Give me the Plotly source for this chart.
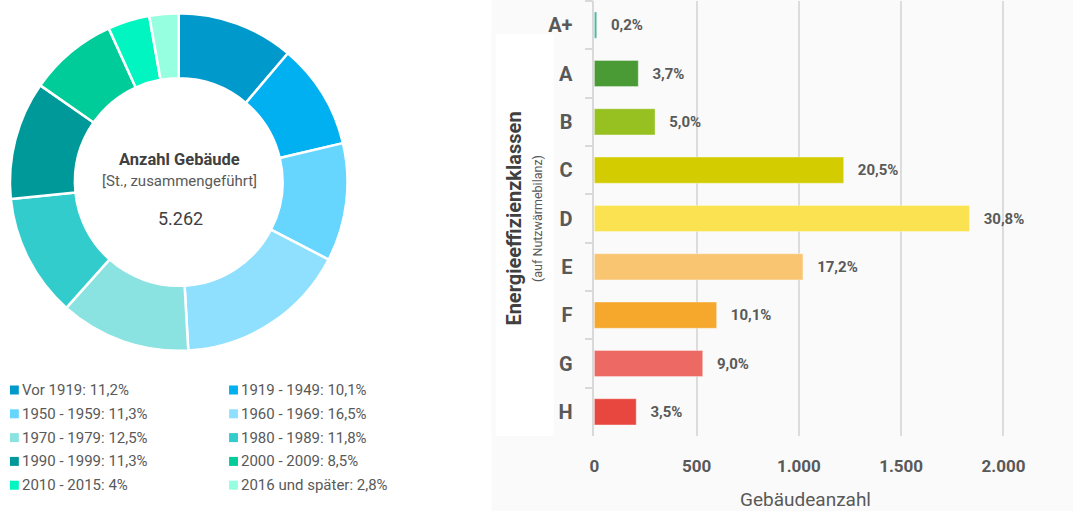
import plotly.graph_objects as go

W, H = 1082, 511

# ---- Donut data ----
age_labels = ["Vor 1919", "1919 - 1949", "1950 - 1959", "1960 - 1969", "1970 - 1979",
              "1980 - 1989", "1990 - 1999", "2000 - 2009", "2010 - 2015", "2016 und später"]
age_share = [11.2, 10.1, 11.3, 16.5, 12.5, 11.8, 11.3, 8.5, 4.0, 2.8]
age_share_text = ["11,2%", "10,1%", "11,3%", "16,5%", "12,5%", "11,8%", "11,3%", "8,5%", "4%", "2,8%"]
age_colors = ["#0099CC", "#00B0F0", "#66D6FF", "#8FE0FF", "#8AE3E0",
              "#33CCCC", "#009999", "#00CC99", "#00F5C0", "#96FFE0"]
total_text = "5.262"

# ---- Bar data ----
classes = ["A+", "A", "B", "C", "D", "E", "F", "G", "H"]
counts = [12, 215, 297, 1219, 1834, 1020, 598, 530, 205]
count_pct = ["0,2%", "3,7%", "5,0%", "20,5%", "30,8%", "17,2%", "10,1%", "9,0%", "3,5%"]
class_colors = ["#4DB6A0", "#4A9A35", "#97C121", "#D2CC00", "#FBE251",
                "#F9C571", "#F5A82C", "#EC6A63", "#E8473F"]
x_ticks = [0, 500, 1000, 1500, 2000]

FONT = "Roboto"
GREY = "#595959"

def px(x):
    return x / W

def py(y):
    return 1 - y / H

fig = go.Figure()

fig.add_trace(go.Pie(
    labels=age_labels, values=age_share, sort=False, direction="clockwise",
    rotation=0, hole=0.615, textinfo="none", showlegend=False,
    marker=dict(colors=age_colors, line=dict(color="white", width=2.5)),
    domain=dict(x=[px(5), px(347)], y=[py(352), py(12)]),
))

fig.add_trace(go.Bar(
    y=classes, x=counts, orientation="h",
    marker=dict(color=class_colors, line=dict(color="rgba(255,255,255,0.35)", width=1)),
    text=["\u00a0\u00a0\u00a0" + t for t in count_pct], textposition="outside",
    textfont=dict(family=FONT, size=15, color=GREY, weight="bold"),
    cliponaxis=False, showlegend=False, width=0.54,
))

shapes = [
    dict(type="rect", xref="paper", yref="paper", x0=px(493), x1=1, y0=0, y1=1,
         fillcolor="#FAFAFA", line=dict(width=0), layer="below"),
    dict(type="rect", xref="paper", yref="paper", x0=px(497), x1=px(556), y0=py(436), y1=py(34),
         fillcolor="#FFFFFF", line=dict(width=0), layer="below"),
]

annotations = [
    dict(text="<b>Anzahl Gebäude</b>", x=px(177), y=py(159), xref="paper", yref="paper",
         xanchor="center", yanchor="middle",
         showarrow=False, font=dict(family=FONT, size=16.5, color="#404040")),
    dict(text="[St., zusammengeführt]", x=px(177), y=py(181), xref="paper", yref="paper",
         xanchor="center", yanchor="middle",
         showarrow=False, font=dict(family=FONT, size=15, color=GREY)),
    dict(text=total_text, x=px(178), y=py(218), xref="paper", yref="paper",
         xanchor="center", yanchor="middle",
         showarrow=False, font=dict(family=FONT, size=18, color="#404040")),
]

# legend entries in two columns, row-major
for i, (lab, pct, col) in enumerate(zip(age_labels, age_share_text, age_colors)):
    c, r = i % 2, i // 2
    sx = 5 if c == 0 else 227
    cy = 390 + r * 23.8
    shapes.append(dict(type="rect", xref="paper", yref="paper",
                       x0=px(sx), x1=px(sx + 9), y0=py(cy + 4.5), y1=py(cy - 4.5),
                       fillcolor=col, line=dict(width=0)))
    annotations.append(dict(text=f"{lab}: {pct}", x=px(sx + 10), y=py(cy), xref="paper", yref="paper",
                            xanchor="left", yanchor="middle", showarrow=False,
                            font=dict(family=FONT, size=15, color=GREY)))

fig.update_layout(
    width=W, height=H, margin=dict(l=0, r=0, t=0, b=0),
    paper_bgcolor="white", plot_bgcolor="rgba(0,0,0,0)",
    separators=",.",
    shapes=shapes, annotations=annotations,
    font=dict(family=FONT, color=GREY),
    xaxis=dict(domain=[px(597), px(1025)], range=[0, 2065], tickvals=x_ticks, tickformat=",d",
               showgrid=True, gridcolor="#DCDCDC", gridwidth=1.5, zeroline=False, showline=False,
               ticks="", ticklabelstandoff=18,
               tickfont=dict(family=FONT, size=17, color=GREY, weight="bold"),
               title=dict(text="Gebäudeanzahl", standoff=20,
                          font=dict(family=FONT, size=19, color=GREY))),
    yaxis=dict(domain=[py(436), py(1)], categoryorder="array", categoryarray=classes,
               autorange="reversed", showline=True, linecolor="#D9D9D9", linewidth=1.5,
               ticks="outside", tickson="boundaries", ticklen=8, tickcolor="#D9D9D9", tickwidth=1.5,
               ticklabelstandoff=16, showgrid=False, zeroline=False,
               tickfont=dict(family=FONT, size=20, color=GREY, weight="bold"),
               title=dict(text="<span style='font-size:20px;color:#404040'><b>Energieeffizienzklassen</b></span><br><span style='font-size:12.5px'>(auf Nutzwärmebilanz)</span>",
                          standoff=1, font=dict(family=FONT, size=16.5, color=GREY))),
    bargap=0.46,
)

fig.write_html("out.html")
